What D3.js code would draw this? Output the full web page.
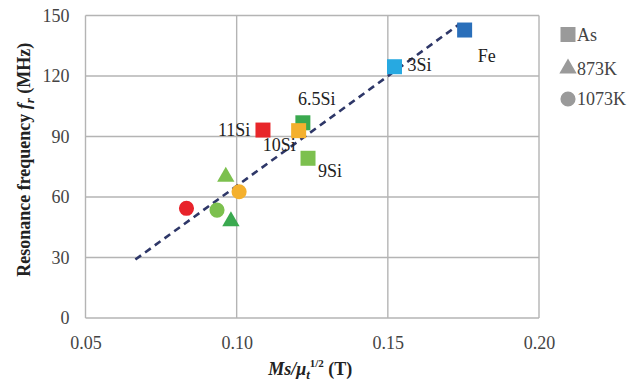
<!DOCTYPE html>
<html><head><meta charset="utf-8">
<script src="https://cdn.jsdelivr.net/npm/d3@7"></script>
</head><body style="margin:0;background:#fff"><svg id="c" width="643" height="383" font-family="Liberation Serif" style="display:block"></svg>
<script>
const xTicks = [0.05, 0.10, 0.15, 0.20];
const yTicks = [0, 30, 60, 90, 120, 150];
const names  = ["Fe","3Si","6.5Si","10Si","11Si","9Si","873K-a","873K-b","1073K-a","1073K-b","1073K-c"];
const xVals  = [0.1754,0.1522,0.1219,0.1205,0.1087,0.1236,0.0964,0.0981,0.1008,0.0834,0.0935];
const yVals  = [142.8,124.6,96.8,92.9,93.2,79.2,70.0,48.0,62.6,54.4,53.5];
const shapes = ["square","square","square","square","square","square","triangle","triangle","circle","circle","circle"];
const colors = ["#2a6fba","#27a9e1","#3aa94f","#f4b02e","#e8262a","#7cc04e","#7cc04e","#3aa94f","#f4b02e","#e8232b","#7cc04e"];
const labels = [{t:"Fe",i:0,dx:13,dy:32},{t:"3Si",i:1,dx:13,dy:4},{t:"6.5Si",i:2,dx:-5,dy:-18},{t:"10Si",i:3,dx:-36,dy:20},{t:"11Si",i:4,dx:-45,dy:6},{t:"9Si",i:5,dx:10,dy:19}];
const fitX = [0.0665, 0.1735];
const fitY = [29.0, 145.5];
const legendNames = ["As","873K","1073K"];
const legendShapes = ["square","triangle","circle"];

const FONT = "Liberation Serif";
const svg = d3.select("#c");
const L=85.5, R=539, T=15.5, B=318;
const x = d3.scaleLinear().domain([0.05,0.20]).range([L,R]);
const y = d3.scaleLinear().domain([0,150]).range([B,T]);
const symType = {square:d3.symbolSquare, triangle:d3.symbolTriangle, circle:d3.symbolCircle};
const symSize = {square:225, triangle:130, circle:180};

// grid
const g = svg.append("g");
g.selectAll(".vg").data(xTicks).join("line").attr("x1",d=>x(d)).attr("x2",d=>x(d)).attr("y1",T).attr("y2",B)
 .attr("stroke","#b4b4b4").attr("stroke-width",1.4);
g.selectAll(".hg").data(yTicks).join("line").attr("x1",L).attr("x2",R).attr("y1",d=>y(d)).attr("y2",d=>y(d))
 .attr("stroke","#b4b4b4").attr("stroke-width",1.4);

// axes via d3
const xa = svg.append("g").attr("transform",`translate(0,${B})`)
 .call(d3.axisBottom(x).tickValues(xTicks).tickFormat(d3.format(".2f")).tickSize(0).tickPadding(18));
const ya = svg.append("g").attr("transform",`translate(${L},0)`)
 .call(d3.axisLeft(y).tickValues(yTicks).tickSize(0).tickPadding(16));
[xa,ya].forEach(a=>{a.attr("font-family",FONT).attr("font-size",18);a.select(".domain").remove();
 a.selectAll("text").attr("font-size",18).attr("fill","#444").attr("font-family",FONT);});

// fit line
svg.append("line").attr("x1",x(fitX[0])).attr("y1",y(fitY[0])).attr("x2",x(fitX[1])).attr("y2",y(fitY[1]))
 .attr("stroke","#2e3768").attr("stroke-width",2.6).attr("stroke-dasharray","7,5");

// points
const idx = d3.range(names.length);
svg.selectAll(".pt").data(idx).join("path")
 .attr("transform",i=>`translate(${x(xVals[i])},${y(yVals[i])})`)
 .attr("d",i=>d3.symbol().type(symType[shapes[i]]).size(symSize[shapes[i]])())
 .attr("fill",i=>colors[i]);

// labels
svg.selectAll(".lb").data(labels).join("text")
 .attr("x",d=>x(xVals[d.i])+d.dx).attr("y",d=>y(yVals[d.i])+d.dy)
 .attr("font-family",FONT).attr("font-size",18).attr("fill","#222").text(d=>d.t);

// legend
const lg = svg.append("g");
legendNames.forEach((n,k)=>{
  const cy=[34.5,68.5,99][k];
  lg.append("path").attr("transform",`translate(568,${cy})`)
    .attr("d",d3.symbol().type(symType[legendShapes[k]]).size(symSize[legendShapes[k]])()).attr("fill","#9a9a9a");
  lg.append("text").attr("x",577).attr("y",cy+6).attr("font-family",FONT).attr("font-size",18).attr("fill","#444").text(n);
});

// y title
const yt = svg.append("text").attr("transform",`translate(30,${(T+B)/2-7}) rotate(-90)`).attr("text-anchor","middle")
 .attr("font-family",FONT).attr("font-size",18).attr("font-weight","bold").attr("fill","#222");
yt.append("tspan").text("Resonance frequency ");
yt.append("tspan").attr("font-style","italic").text("f");
yt.append("tspan").attr("font-style","italic").attr("font-size",13).attr("dy",4).text("r");
yt.append("tspan").attr("dy",-4).text(" (MHz)");

// x title
const xt = svg.append("text").attr("x",(L+R)/2-2).attr("y",375).attr("text-anchor","middle")
 .attr("font-family",FONT).attr("font-size",18).attr("font-weight","bold").attr("fill","#222");
xt.append("tspan").attr("font-style","italic").text("Ms/μ");
xt.append("tspan").attr("font-style","italic").attr("font-size",13).attr("dy",4).text("t");
xt.append("tspan").attr("font-size",11).attr("dy",-12).text("1/2");
xt.append("tspan").attr("dy",8).text(" (T)");
</script></body></html>
